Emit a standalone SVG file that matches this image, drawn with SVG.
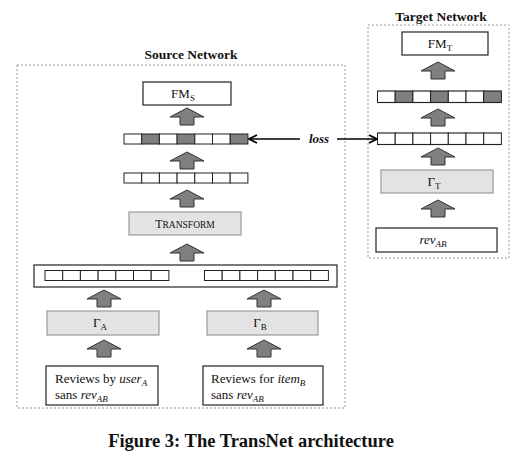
<svg xmlns="http://www.w3.org/2000/svg" width="513" height="454" viewBox="0 0 513 454">
<style>
.t{font-family:"Liberation Serif","DejaVu Serif",serif;fill:#111}
.title{font-weight:bold;font-size:13.5px}
.lbl{font-size:13px}
.sub{font-size:9px}
.frame{fill:none;stroke:#999;stroke-width:1;stroke-dasharray:2,2}
.box{fill:#fff;stroke:#222;stroke-width:1.2}
.gbox{fill:#e3e3e3;stroke:#9a9a9a;stroke-width:1.2}
.cell{fill:#fff;stroke:#222;stroke-width:1}
.cellg{fill:#7f7f7f;stroke:#222;stroke-width:1}
.blk{fill:#7f7f7f;stroke:#333;stroke-width:1}
.ln{stroke:#000;stroke-width:1.6;fill:none}
</style>
<defs>
<path id="up" class="blk" d="M0,0 L17,9 L7,9 L7,17 L-7,17 L-7,9 L-17,9 Z"/>
<marker id="ah" markerWidth="10" markerHeight="10" refX="9" refY="5" orient="auto" markerUnits="userSpaceOnUse">
<path d="M1,1 L9,5 L1,9" fill="none" stroke="#000" stroke-width="1.8"/>
</marker>
<g id="vec7">
<rect class="cell" x="0" y="0" width="17.7" height="10"/>
<rect class="cell" x="17.7" y="0" width="17.7" height="10"/>
<rect class="cell" x="35.4" y="0" width="17.7" height="10"/>
<rect class="cell" x="53.1" y="0" width="17.7" height="10"/>
<rect class="cell" x="70.8" y="0" width="17.7" height="10"/>
<rect class="cell" x="88.5" y="0" width="17.7" height="10"/>
<rect class="cell" x="106.2" y="0" width="17.7" height="10"/>
</g>
<g id="vec7s">
<rect class="cell" x="0" y="0" width="17.7" height="10"/>
<rect class="cellg" x="17.7" y="0" width="17.7" height="10"/>
<rect class="cell" x="35.4" y="0" width="17.7" height="10"/>
<rect class="cellg" x="53.1" y="0" width="17.7" height="10"/>
<rect class="cell" x="70.8" y="0" width="17.7" height="10"/>
<rect class="cell" x="88.5" y="0" width="17.7" height="10"/>
<rect class="cellg" x="106.2" y="0" width="17.7" height="10"/>
</g>
</defs>

<!-- frames and titles -->
<g id="source-network">
<rect class="frame" x="17" y="65" width="328" height="343"/>
<text class="t title" x="191" y="59" text-anchor="middle">Source Network</text>
</g>
<g id="target-network">
<rect class="frame" x="368" y="25" width="141" height="233"/>
<text class="t title" x="441" y="21" text-anchor="middle">Target Network</text>
</g>

<!-- Source nodes -->
<g id="fm-s">
<rect class="box" x="143" y="82" width="88" height="23"/>
<text class="t lbl" x="183" y="98" text-anchor="middle">FM<tspan class="sub" dy="3">S</tspan></text>
</g>
<g id="vec-s-out"><use href="#vec7s" x="124" y="134"/></g>
<g id="vec-s-mid"><use href="#vec7" x="124" y="173"/></g>
<g id="transform">
<rect class="gbox" x="129" y="212" width="112" height="23"/>
<text class="t" x="185" y="228" text-anchor="middle" font-size="12">T<tspan font-size="9.5">RANSFORM</tspan></text>
</g>
<g id="concat">
<rect class="box" x="34" y="265" width="303" height="22"/>
<use href="#vec7" x="45" y="270.5"/>
<use href="#vec7" x="204.5" y="270.5"/>
</g>
<g id="gamma-a">
<rect class="gbox" x="47" y="311" width="112" height="24"/>
<text class="t lbl" x="100" y="327" text-anchor="middle">Γ<tspan class="sub" dy="3">A</tspan></text>
</g>
<g id="gamma-b">
<rect class="gbox" x="207" y="311" width="111" height="24"/>
<text class="t lbl" x="260" y="327" text-anchor="middle">Γ<tspan class="sub" dy="3">B</tspan></text>
</g>
<g id="reviews-user">
<rect class="box" x="46" y="366" width="112" height="39"/>
<text class="t lbl" x="55" y="383">Reviews by <tspan font-style="italic">user</tspan><tspan class="sub" font-style="italic" dy="3">A</tspan></text>
<text class="t lbl" x="55" y="399">sans <tspan font-style="italic">rev</tspan><tspan class="sub" font-style="italic" dy="3">AB</tspan></text>
</g>
<g id="reviews-item">
<rect class="box" x="203" y="366" width="120" height="39"/>
<text class="t lbl" x="211" y="383">Reviews for <tspan font-style="italic">item</tspan><tspan class="sub" font-style="italic" dy="3">B</tspan></text>
<text class="t lbl" x="211" y="399">sans <tspan font-style="italic">rev</tspan><tspan class="sub" font-style="italic" dy="3">AB</tspan></text>
</g>

<!-- Target nodes -->
<g id="fm-t">
<rect class="box" x="402" y="32" width="86" height="23"/>
<text class="t lbl" x="440" y="48" text-anchor="middle">FM<tspan class="sub" dy="3">T</tspan></text>
</g>
<g id="vec-t-out"><use href="#vec7s" x="377.5" y="91" transform="translate(377.5 91) scale(1.0 1.15) translate(-377.5 -91)"/></g>
<g id="vec-t-in"><use href="#vec7" x="377.5" y="133" transform="translate(377.5 133) scale(1.0 1.15) translate(-377.5 -133)"/></g>
<g id="gamma-t">
<rect class="gbox" x="381" y="170" width="112" height="23"/>
<text class="t lbl" x="434" y="186" text-anchor="middle">Γ<tspan class="sub" dy="3">T</tspan></text>
</g>
<g id="rev-ab">
<rect class="box" x="376" y="228" width="121" height="24"/>
<text class="t lbl" x="433" y="244" text-anchor="middle" font-style="italic">rev<tspan class="sub" dy="3">AB</tspan></text>
</g>

<!-- connectors -->
<g id="connectors">
<use href="#up" x="187" y="108"/>
<use href="#up" x="187" y="152"/>
<use href="#up" x="187" y="190"/>
<use href="#up" x="187" y="244"/>
<use href="#up" x="104" y="290"/>
<use href="#up" x="264" y="290"/>
<use href="#up" x="104" y="340"/>
<use href="#up" x="264" y="340"/>
<use href="#up" x="438" y="62"/>
<use href="#up" x="438" y="109"/>
<use href="#up" x="438" y="148"/>
<use href="#up" x="438" y="200"/>
<line class="ln" x1="300" y1="139" x2="249" y2="139" marker-end="url(#ah)"/>
<line class="ln" x1="337" y1="139" x2="377" y2="139" marker-end="url(#ah)"/>
<text class="t" x="319" y="143" text-anchor="middle" font-size="13" font-weight="bold" font-style="italic">loss</text>
</g>

<text class="t" x="251" y="447" text-anchor="middle" font-size="18.5" font-weight="bold">Figure 3: The TransNet architecture</text>
</svg>
